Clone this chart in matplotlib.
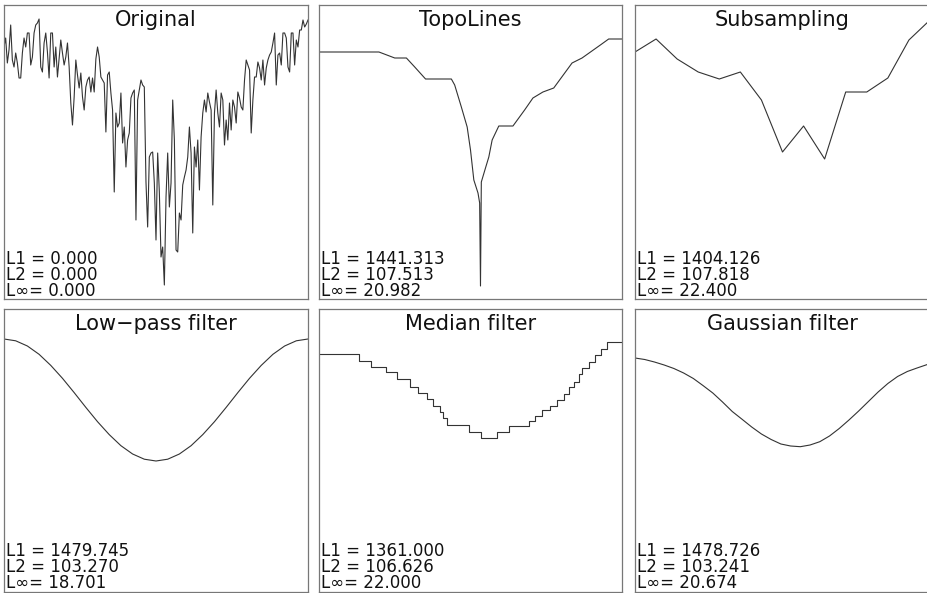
import matplotlib
matplotlib.use("Agg")
import matplotlib.pyplot as plt

plt.rcParams['font.family'] = ['DejaVu Sans']

W, H = 927, 593

# signal values (height units), index 0..182
orig = [252, 261, 236, 249, 274, 239, 232, 246, 236, 221,
        221, 246, 261, 252, 266, 266, 234, 242, 266, 274,
        276, 280, 232, 227, 256, 266, 247, 221, 266, 266,
        232, 252, 222, 241, 259, 246, 234, 242, 256, 232,
        196, 174, 202, 239, 224, 211, 226, 202, 189, 212,
        219, 222, 207, 221, 207, 240, 252, 242, 222, 219,
        216, 167, 224, 227, 206, 189, 107, 186, 172, 176,
        206, 156, 172, 132, 159, 166, 201, 206, 209, 79,
        199, 209, 219, 214, 212, 117, 72, 142, 146, 147,
        116, 59, 146, 107, 42, 52, 14, 102, 146, 92,
        116, 199, 159, 49, 47, 86, 79, 114, 122, 129,
        142, 172, 146, 66, 152, 132, 159, 109, 162, 186,
        199, 187, 206, 197, 189, 94, 186, 209, 186, 172,
        206, 199, 154, 179, 159, 196, 169, 199, 192, 176,
        207, 201, 192, 189, 219, 239, 234, 229, 166, 199,
        222, 222, 237, 231, 219, 239, 214, 231, 239, 244,
        247, 256, 266, 214, 244, 246, 234, 266, 266, 261,
        232, 227, 266, 266, 234, 259, 252, 269, 269, 279, 272, 275, 279]

topo_x = [0, 36, 45.5, 52.5, 57.5, 64, 79.5, 81.5, 85.5, 89, 91, 93, 95.5, 96.5, 97,
          97.5, 100, 102, 104, 108, 116.5, 123.5, 128.5, 134.5, 141, 152, 158, 169, 174, 182]
topo_y = [247, 247, 241, 241, 232, 220, 220, 214, 192, 172, 149, 119, 106, 96, 13,
          117, 131, 142, 159, 173, 173, 189, 201, 207, 211, 236, 241, 254, 260, 260]

sub_x = [0, 13, 26, 39, 52, 65, 78, 91, 104, 117, 130, 143, 156, 169, 182]
sub_y = [247, 260, 240, 227, 220, 227, 199, 147, 173, 140, 207, 207, 221, 259, 279]

low_x = [0, 7, 14, 21, 28, 35, 42, 49, 56, 63, 70, 77, 84, 91,
         98, 105, 112, 119, 126, 133, 140, 147, 154, 161, 168, 175, 182]
low_y = [253, 251.2, 246, 237.7, 226.6, 213.7, 199.4, 184.6, 170.3, 157.4, 146.3, 138, 132.8, 131,
         132.8, 138, 146.3, 157.4, 170.3, 184.6, 199.4, 213.7, 226.6, 237.7, 246, 251.2, 253]

med_x = [0, 24.2, 31.3, 40.1, 46.7, 54.7, 59.7, 64.7, 68.7, 72.7, 74.7, 76.8, 89.8, 97.2,
         106.8, 114.4, 125.9, 129.9, 133.9, 138.9, 142.9, 146.9, 150.3, 152.9, 155.9, 157.9,
         161.9, 165.9, 169.3, 172.9, 182]
med_y = [237.7, 231, 225.3, 220.3, 213, 204.7, 198.7, 193, 186.3, 179.7, 173.7, 167, 159.7, 154.3,
         159.7, 166.3, 171.3, 176.3, 182, 186.3, 192, 197.7, 204.7, 210.3, 218, 223.7,
         230.3, 237, 243, 250.3, 250.3]

gau_x = [0, 6, 12, 18, 24, 30, 36, 42, 48, 54, 60, 66, 72, 78, 84, 90, 96, 102,
         108, 114, 120, 126, 132, 138, 144, 150, 156, 162, 168, 174, 180, 182]
gau_y = [234, 232.5, 230, 227, 223.5, 219, 213.5, 206.4, 199, 190, 180.5, 172.8, 165, 158, 152.5,
         148, 146, 145.3, 147, 150.3, 156, 163.5, 172, 181, 190.5, 200, 208.5, 215.5, 220.5,
         224, 227.3, 228.3]

titles = ["Original", "TopoLines", "Subsampling",
          "Low\u2212pass filter", "Median filter", "Gaussian filter"]
l1 = ["0.000", "1441.313", "1404.126", "1479.745", "1361.000", "1478.726"]
l2 = ["0.000", "107.513", "107.818", "103.270", "106.626", "103.241"]
linf = ["0.000", "20.982", "22.400", "18.701", "22.000", "20.674"]

series = [(list(range(len(orig))), orig, 'default'),
          (topo_x, topo_y, 'default'),
          (sub_x, sub_y, 'default'),
          (low_x, low_y, 'default'),
          (med_x, med_y, 'steps-post'),
          (gau_x, gau_y, 'default')]

# panel boxes in pixels: left, top, right, bottom
cols = [(4, 308), (319, 622), (635, 930)]
rows = [(5, 299), (309, 592)]

fig = plt.figure(figsize=(W / 100, H / 100), dpi=100)

for i in range(6):
    l, r = cols[i % 3]
    t, b = rows[i // 3]
    ax = fig.add_axes([l / W, 1 - b / H, (r - l) / W, (b - t) / H])
    x, y, ds = series[i]
    ax.plot(x, y, color='#333333', lw=0.8, drawstyle=ds)
    ax.set_xlim(0, 182)
    ax.set_ylim(0, b - t)
    ax.set_xticks([])
    ax.set_yticks([])
    for s in ax.spines.values():
        s.set_color('#777777')
        s.set_linewidth(0.9)

    ax.annotate(titles[i], xy=(0.5, 1), xycoords='axes fraction',
                xytext=(0, -21), textcoords='offset pixels',
                ha='center', va='baseline', fontsize=15, color='#111111')

    base = 3 if i < 3 else 4
    lines = ["L1 = " + l1[i], "L2 = " + l2[i], "L\u221e= " + linf[i]]
    for k, txt in enumerate(lines):
        ax.annotate(txt, xy=(0, 0), xycoords='axes fraction',
                    xytext=(2, base + (2 - k) * 16.2), textcoords='offset pixels',
                    ha='left', va='baseline', fontsize=12, color='#111111')

fig.savefig("out.png", dpi=100, facecolor='white')
